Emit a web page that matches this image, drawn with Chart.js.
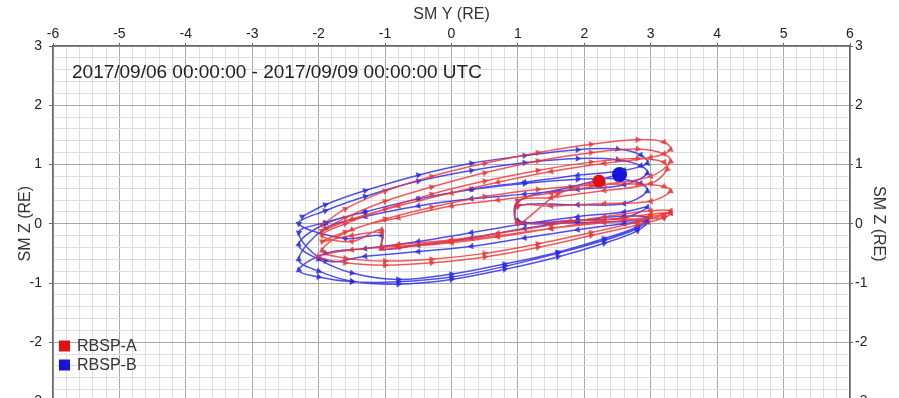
<!DOCTYPE html>
<html>
<head>
<meta charset="utf-8">
<script src="https://cdn.jsdelivr.net/npm/chart.js@4.4.1/dist/chart.umd.min.js"></script>
<style>
  html, body { margin: 0; padding: 0; background: #fff; overflow: hidden; }
  #chart { display: block; }
</style>
</head>
<body>
<canvas id="chart" width="899" height="409"></canvas>
<script>
// axis ranges (RE)
const yRange = [-6, 6];   // SM Y, horizontal
const zRange = [-3, 3];   // SM Z, vertical
const gridStep = 0.2;

const timeLabel = '2017/09/06 00:00:00 - 2017/09/09 00:00:00 UTC';
const probeNames = ['RBSP-A', 'RBSP-B'];

// RBSP-A track, SM Y / SM Z
const aY = [
  -1.95, -1.6, -1.0, -0.3, 0.5, 1.3, 2.1, 2.8, 3.2, 3.3, 3.0, 2.3, 1.5, 0.7, 0.0, -0.8, -1.5,
  -1.95, -1.6, -1.0, -0.3, 0.5, 1.3, 2.1, 2.8, 3.2, 3.3, 3.0, 2.3, 1.5, 0.7, 0.0, -0.8, -1.5,
  -1.95, -1.6, -1.0, -0.3, 0.5, 1.3, 2.1, 2.8, 3.2, 3.3, 3.0, 2.3, 1.5, 0.7, 0.0, -0.8, -1.05, -1.05, -1.5,
  -1.95, -1.6, -1.0, -0.3, 0.5, 1.3, 2.1, 2.8, 3.2, 3.3, 3.0, 2.3, 1.5, 1.0, 1.0, 1.8, 2.6, 3.2, 3.3, 3.0, 2.3, 1.5, 0.7, 0.0, -0.8, -1.5,
  -2.0, -1.6, -1.0, -0.3, 0.5, 1.3, 2.1, 2.8, 3.2, 3.3, 3.0, 2.3, 1.5, 0.7, 0.0, -0.8, -1.05, -1.05, -1.5,
  -1.95, -1.6, -1.0, -0.3, 0.5, 1.3, 2.1, 2.8, 3.2, 3.25, 3.0, 2.3, 1.5, 1.0, 1.0, 1.6, 2.22
];
const aZ = [
  -0.02, 0.25, 0.55, 0.8, 1.02, 1.2, 1.34, 1.42, 1.38, 1.25, 1.12, 1.02, 0.88, 0.7, 0.52, 0.3, 0.08,
  -0.12, 0.1, 0.38, 0.62, 0.86, 1.06, 1.2, 1.26, 1.18, 1.05, 0.8, 0.66, 0.52, 0.4, 0.3, 0.1, -0.1,
  -0.45, -0.58, -0.63, -0.6, -0.5, -0.34, -0.15, 0.03, 0.15, 0.22, 0.22, 0.12, -0.02, -0.16, -0.27, -0.35, -0.38, -0.15, -0.2,
  -0.3, -0.14, 0.08, 0.28, 0.46, 0.58, 0.65, 0.67, 0.63, 0.55, 0.38, 0.34, 0.3, 0.3, 0.02, 0.05, 0.08, 0.1, 0.18, 0.12, 0.02, -0.08, -0.2, -0.3, -0.38, -0.44,
  -0.55, -0.66, -0.7, -0.66, -0.56, -0.4, -0.2, -0.02, 0.1, 0.18, 0.16, 0.06, -0.08, -0.22, -0.32, -0.4, -0.42, -0.1, -0.3,
  -0.2, 0.0, 0.25, 0.5, 0.72, 0.9, 1.04, 1.1, 1.04, 0.92, 0.68, 0.56, 0.44, 0.38, 0.0, 0.5, 0.72
];

// RBSP-B track, SM Y / SM Z
const bY = [
  -2.25, -1.9, -1.3, -0.5, 0.3, 1.1, 1.9, 2.5, 2.85, 2.95, 2.6, 1.9, 1.1, 0.3, -0.5, -1.3, -1.9,
  -2.3, -2.0, -1.5, -0.8, 0.0, 0.8, 1.6, 2.3, 2.8, 2.95, 2.6, 1.9, 1.1, 0.3, -0.5, -1.05, -1.05, -1.6,
  -2.3, -1.9, -1.3, -0.5, 0.3, 1.1, 1.9, 2.5, 2.85, 2.95, 2.6, 1.9, 1.1, 0.3, -0.5, -1.3, -1.9,
  -2.3, -2.0, -1.5, -0.8, 0.0, 0.8, 1.6, 2.3, 2.8, 2.95, 2.6, 1.9, 1.1, 0.3, -0.5, -1.3, -1.9,
  -2.3, -1.9, -1.3, -0.5, 0.3, 1.1, 1.9, 2.5, 2.85, 2.95, 2.6, 1.9, 1.0, 1.0, 1.9, 2.6, 2.95, 2.6, 1.9, 1.1, 0.3, -0.5, -1.3, -1.9,
  -2.3, -2.0, -1.5, -0.8, 0.0, 0.8, 1.6, 2.3, 2.8, 2.95, 2.6, 1.9, 1.0, 1.0, 1.8, 2.53
];
const bZ = [
  0.12, 0.32, 0.56, 0.82, 1.02, 1.15, 1.25, 1.26, 1.16, 1.02, 0.9, 0.82, 0.7, 0.58, 0.42, 0.2, 0.0,
  -0.35, -0.6, -0.83, -0.94, -0.85, -0.68, -0.48, -0.25, -0.05, 0.1, 0.13, 0.05, -0.08, -0.24, -0.36, -0.42, -0.2, -0.25,
  0.0, 0.22, 0.46, 0.72, 0.9, 1.03, 1.1, 1.08, 0.98, 0.85, 0.66, 0.58, 0.5, 0.42, 0.3, 0.12, -0.08,
  -0.6, -0.8, -0.97, -1.02, -0.94, -0.77, -0.56, -0.33, -0.12, 0.03, 0.0, -0.1, -0.24, -0.38, -0.47, -0.55, -0.62,
  -0.15, 0.02, 0.2, 0.42, 0.58, 0.68, 0.75, 0.76, 0.68, 0.55, 0.34, 0.32, 0.3, 0.04, 0.06, 0.1, 0.28, 0.2, 0.12, 0.0, -0.15, -0.3, -0.42, -0.5,
  -0.78, -0.9, -0.98, -0.98, -0.9, -0.72, -0.5, -0.28, -0.08, 0.06, 0.04, 0.02, 0.05, 0.38, 0.62, 0.83
];

const redLine = 'rgba(238, 52, 52, 0.82)';
const blueLine = 'rgba(40, 40, 236, 0.82)';
const redDot = '#e01010';
const blueDot = '#1414dc';

const toPoints = (ys, zs) => ys.map((v, i) => ({ x: v, y: zs[i] }));
const isWhole = v => Math.abs(v - Math.round(v)) < 1e-6;

// arrow heads point along the track
function arrowRotation(ctx) {
  const data = ctx.dataset.data;
  const i = ctx.dataIndex;
  const j = i < data.length - 1 ? i + 1 : i;
  const k = j === i ? i - 1 : i;
  const sx = ctx.chart.scales.x, sy = ctx.chart.scales.y;
  const dx = sx.getPixelForValue(data[j].x) - sx.getPixelForValue(data[k].x);
  const dy = sy.getPixelForValue(data[j].y) - sy.getPixelForValue(data[k].y);
  return Math.atan2(dy, dx) * 180 / Math.PI + 90;
}

function trackDataset(label, ys, zs, color) {
  return {
    label: label,
    data: toPoints(ys, zs),
    showLine: true,
    borderColor: color,
    backgroundColor: color,
    borderWidth: 1.5,
    tension: 0.35,
    pointStyle: 'triangle',
    pointRadius: ctx => (ctx.dataIndex === ctx.dataset.data.length - 1 ? 0 : 3.8),
    pointRotation: arrowRotation,
    pointBorderWidth: 0,
    pointHoverRadius: 0
  };
}

const gridColor = ctx => (ctx.tick && isWhole(ctx.tick.value) ? '#a8a8a8' : '#dedede');
const tickMarkColor = ctx => (ctx.tick && isWhole(ctx.tick.value) ? '#666' : 'rgba(0,0,0,0)');
const wholeLabel = v => (isWhole(v) ? String(Math.round(v)) : '');
const tickFont = { family: 'Liberation Sans, Arial, sans-serif', size: 14 };
const titleFont = { family: 'Liberation Sans, Arial, sans-serif', size: 16 };

// fixed axis boxes so the plot area sits where it does in the picture
const fitTop = scale => { scale.height = 46; scale.paddingLeft = 0; scale.paddingRight = 0; };
const fitSide = w => scale => { scale.width = w; scale.paddingTop = 0; scale.paddingBottom = 0; };

// time range text and legend, drawn inside the plot
const overlay = {
  id: 'overlay',
  afterDatasetsDraw(chart) {
    const c = chart.ctx;
    const area = chart.chartArea;
    c.save();
    c.fillStyle = '#222';
    c.font = '19px Liberation Sans, Arial, sans-serif';
    c.textBaseline = 'middle';
    c.fillText(timeLabel, area.left + 19, 73);

    c.font = '16px Liberation Sans, Arial, sans-serif';
    const swatches = [redDot, blueDot];
    probeNames.forEach((name, i) => {
      const yMid = 346 + i * 19;
      c.fillStyle = swatches[i];
      c.fillRect(area.left + 6, yMid - 5.5, 11, 11);
      c.fillStyle = '#333';
      c.fillText(name, area.left + 24, yMid + 1);
    });
    c.restore();
  }
};

new Chart(document.getElementById('chart'), {
  type: 'scatter',
  data: {
    datasets: [
      {
        label: 'RBSP-A end',
        data: [{ x: aY[aY.length - 1], y: aZ[aZ.length - 1] }],
        backgroundColor: redDot,
        borderWidth: 0,
        pointRadius: 6.5,
        pointHoverRadius: 6.5
      },
      {
        label: 'RBSP-B end',
        data: [{ x: bY[bY.length - 1], y: bZ[bZ.length - 1] }],
        backgroundColor: blueDot,
        borderWidth: 0,
        pointRadius: 7.5,
        pointHoverRadius: 7.5
      },
      trackDataset(probeNames[0], aY, aZ, redLine),
      trackDataset(probeNames[1], bY, bZ, blueLine)
    ]
  },
  options: {
    responsive: false,
    animation: false,
    devicePixelRatio: 1,
    layout: { padding: 0 },
    plugins: {
      legend: { display: false },
      tooltip: { enabled: false }
    },
    scales: {
      x: {
        type: 'linear',
        position: 'top',
        min: yRange[0],
        max: yRange[1],
        afterFit: fitTop,
        ticks: {
          stepSize: gridStep,
          autoSkip: false,
          maxRotation: 0,
          padding: 0,
          color: '#222',
          font: tickFont,
          callback: wholeLabel
        },
        grid: { color: gridColor, tickColor: tickMarkColor, tickLength: 3, lineWidth: 1 },
        border: { color: '#666', width: 1.5 },
        title: { display: true, text: 'SM Y (RE)', color: '#333', font: titleFont, padding: { top: 5, bottom: 0 } }
      },
      y: {
        type: 'linear',
        position: 'left',
        min: zRange[0],
        max: zRange[1],
        afterFit: fitSide(53),
        ticks: {
          stepSize: gridStep,
          autoSkip: false,
          padding: 7,
          color: '#222',
          font: tickFont,
          callback: wholeLabel
        },
        grid: { color: gridColor, tickColor: tickMarkColor, tickLength: 4, lineWidth: 1 },
        border: { color: '#666', width: 1.5 },
        title: { display: true, text: 'SM Z (RE)', color: '#333', font: titleFont, padding: { top: 16, bottom: 0 } }
      },
      y2: {
        type: 'linear',
        position: 'right',
        min: zRange[0],
        max: zRange[1],
        afterFit: fitSide(49),
        ticks: {
          stepSize: gridStep,
          autoSkip: false,
          padding: 2,
          color: '#222',
          font: tickFont,
          callback: wholeLabel
        },
        grid: { drawOnChartArea: false, tickColor: tickMarkColor, tickLength: 3 },
        border: { color: '#666', width: 1.5 },
        title: { display: true, text: 'SM Z (RE)', color: '#333', font: titleFont, padding: { top: 11, bottom: 0 } }
      }
    }
  },
  plugins: [overlay]
});
</script>
</body>
</html>
